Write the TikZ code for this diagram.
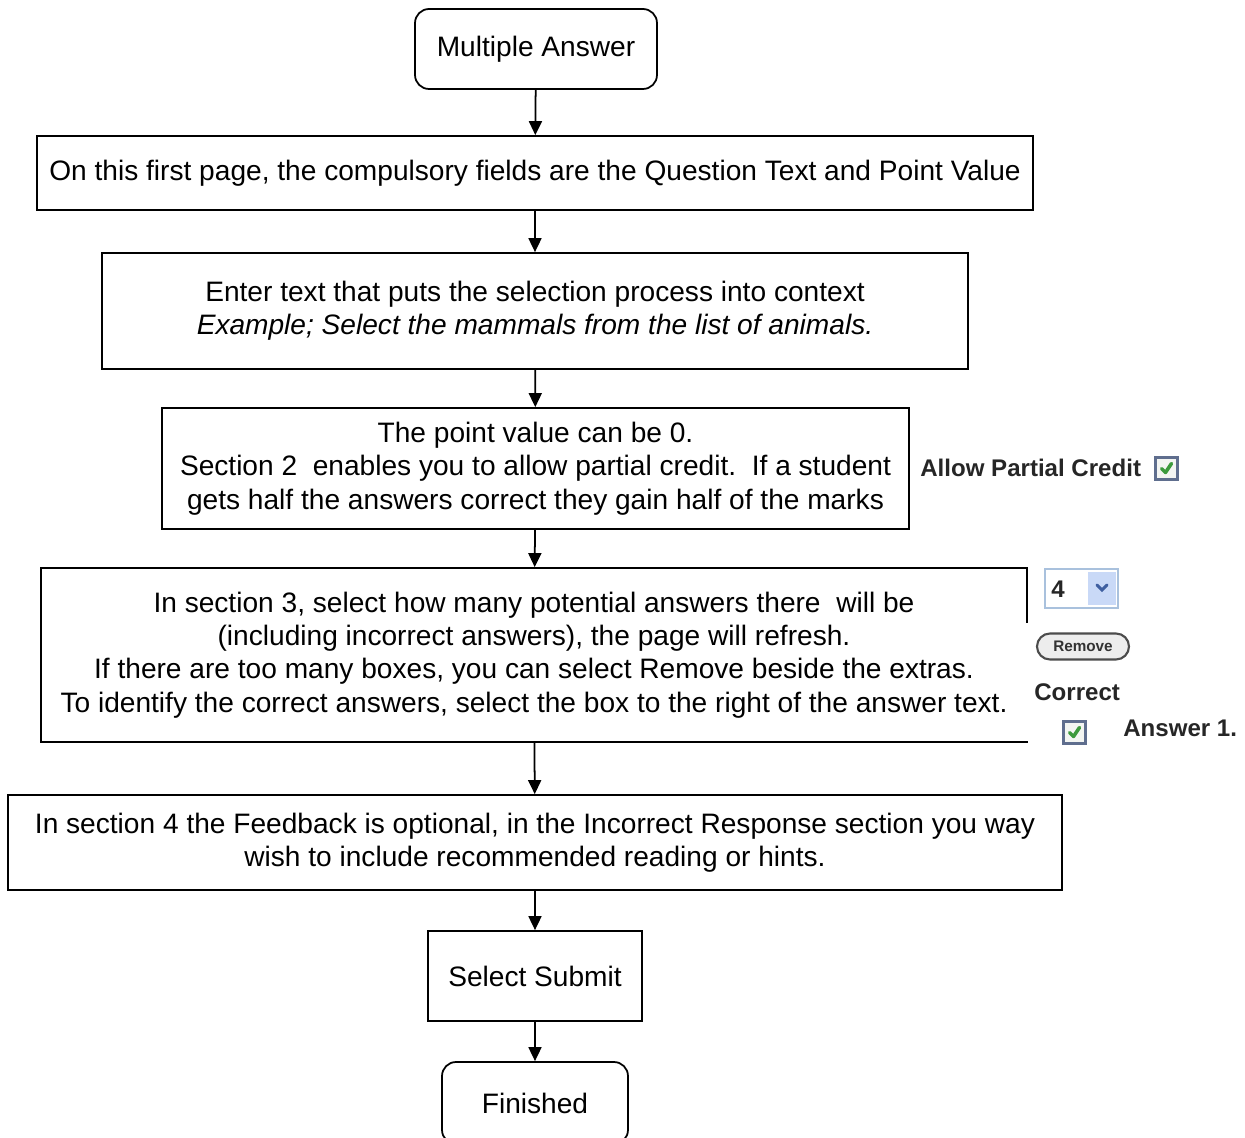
\documentclass[tikz,border=0pt]{standalone}
\usepackage{fontspec}
\setmainfont{Liberation Sans}
\usetikzlibrary{arrows.meta}

\newcommand{\boxfont}{\fontsize{16}{19}\selectfont}
\newcommand{\uifont}{\fontsize{13.7}{15}\selectfont\bfseries}
\newcommand{\pillfont}{\fontsize{8.7}{10}\selectfont\bfseries}

\definecolor{checkframe}{HTML}{5F6E8E}
\definecolor{checkfill}{HTML}{F3F5F2}
\definecolor{checkgreen}{HTML}{3C9A3C}
\definecolor{dropframe}{HTML}{A9C1DD}
\definecolor{dropblue}{HTML}{C9D9F7}
\definecolor{chevblue}{HTML}{3F5FA0}
\definecolor{pillfill}{HTML}{EDEDED}

\begin{document}
\begin{tikzpicture}[x = 0.02cm, y = -0.02cm,
	stepbox/.style = {draw, line width = 1pt, align = center, inner sep = 0pt, font = \boxfont},
	endbox/.style = {stepbox, rounded corners = 0.28cm},
	flow/.style = {-{Triangle[length = 0.28cm, width = 0.26cm]}, line width = 1pt},
	uitext/.style = {font = \uifont, text = black!85, inner sep = 0pt},
	checkbox/.style = {draw = checkframe, fill = checkfill, line width = 1.4pt, minimum size = 0.44cm, inner sep = 0pt},
	tickmark/.style = {checkgreen, line width = 2pt, line cap = round, line join = round},
	pill/.style = {draw = black!70, fill = pillfill, line width = 1.2pt, rounded corners = 0.26cm, minimum width = 1.84cm, minimum height = 0.52cm, inner sep = 0pt, font = \pillfont, text = black!80}]

	\useasboundingbox (0,0) rectangle (1245,1138);

	% flow chart
	\node[endbox, minimum width = 4.84cm, minimum height = 1.6cm] (start) at (536,49) {Multiple Answer};
	\node[stepbox, minimum width = 19.92cm, minimum height = 1.48cm] (first) at (535,173)
		{On this first page, the compulsory fields are the Question Text and Point Value};
	\node[stepbox, minimum width = 17.32cm, minimum height = 2.32cm] (context) at (535,311)
		{Enter text that puts the selection process into context\\
		\textit{Example; Select the mammals from the list of animals.}};
	\node[stepbox, minimum width = 14.94cm, minimum height = 2.42cm] (points) at (535.5,468.5)
		{The point value can be 0.\\
		Section 2\ \ enables you to allow partial credit.\ \ If a student\\
		gets half the answers correct they gain half of the marks};
	\node[stepbox, minimum width = 19.72cm, minimum height = 3.48cm] (answers) at (534,655)
		{In section 3, select how many potential answers there\ \ will be\\
		(including incorrect answers), the page will refresh.\\
		If there are too many boxes, you can select Remove beside the extras.\\
		To identify the correct answers, select the box to the right of the answer text.};
	\node[stepbox, minimum width = 21.08cm, minimum height = 1.9cm] (feedback) at (535,842.5)
		{In section 4 the Feedback is optional, in the Incorrect Response section you way\\
		wish to include recommended reading or hints.};
	\node[stepbox, minimum width = 4.28cm, minimum height = 1.8cm] (submit) at (535,976) {Select Submit};
	\node[endbox, minimum width = 3.72cm, minimum height = 1.64cm] (finished) at (535,1103) {Finished};

	\draw[flow] (start) -- (first);
	\draw[flow] (first) -- (context);
	\draw[flow] (context) -- (points);
	\draw[flow] (points) -- (answers);
	\draw[flow] (answers) -- (feedback);
	\draw[flow] (feedback) -- (submit);
	\draw[flow] (submit) -- (finished);

	% screenshot pieces
	\node[uitext, anchor = west] (partial) at (920,468) {Allow Partial Credit};
	\node[checkbox] (tickA) at (1166.5,468.5) {};
	\draw[tickmark] ([shift = {(-5,0)}]tickA.center) -- ([shift = {(-1,4)}]tickA.center) -- ([shift = {(5,-5)}]tickA.center);

	\fill[white] (1021,623) rectangle (1034,741);
	\node[draw = dropframe, line width = 1.2pt, minimum width = 1.46cm, minimum height = 0.78cm, inner sep = 0pt] (count) at (1081.5,588.5) {};
	\fill[dropblue] (1088,572) rectangle (1116,605);
	\node[uitext, anchor = west] (countval) at (1051,589) {4};
	\draw[chevblue, line width = 1.8pt, line cap = round] (1097,585) -- (1102,590) -- (1107,585);

	\node[pill] (remove) at (1083,646.5) {Remove};

	\node[uitext, anchor = west] (correct) at (1034,692) {Correct};
	\node[checkbox] (tickB) at (1074.5,732.5) {};
	\draw[tickmark] ([shift = {(-5,0)}]tickB.center) -- ([shift = {(-1,4)}]tickB.center) -- ([shift = {(5,-5)}]tickB.center);
	\node[uitext, anchor = west] (answer) at (1123,728) {Answer 1.};
\end{tikzpicture}
\end{document}
